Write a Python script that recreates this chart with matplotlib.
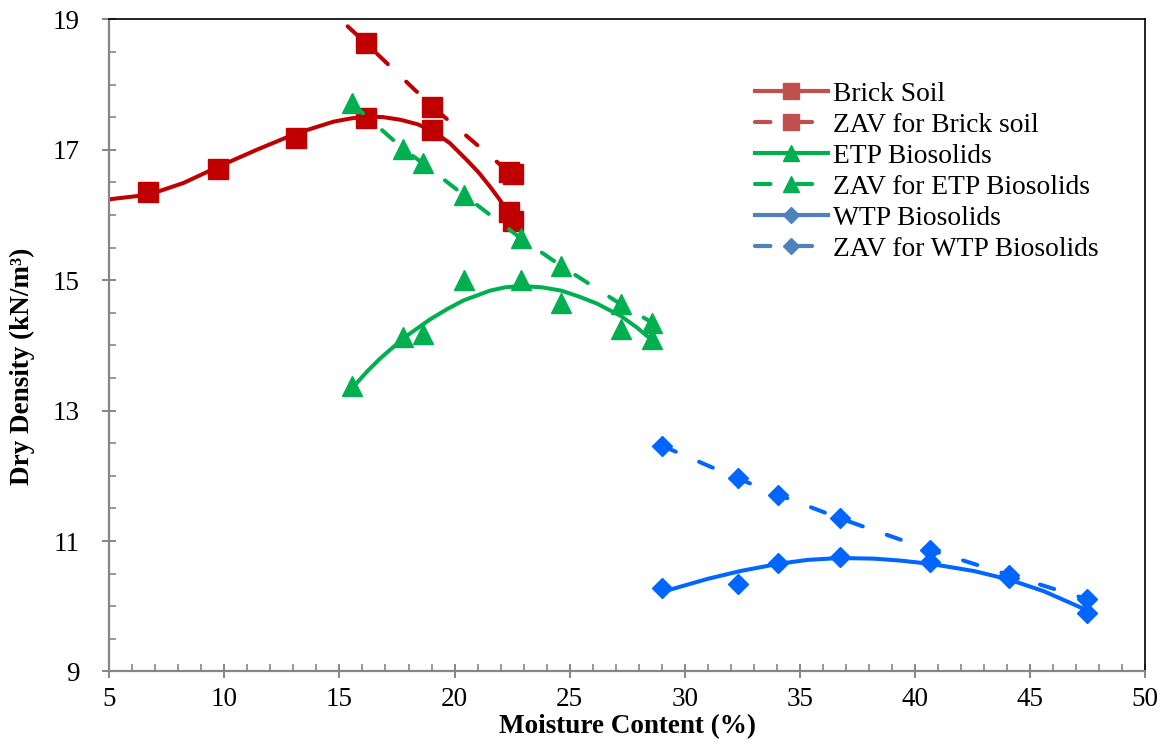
import matplotlib
matplotlib.use("Agg")
import matplotlib.pyplot as plt
from matplotlib.lines import Line2D
from matplotlib.ticker import MultipleLocator

plt.rcParams["font.family"] = ["Liberation Serif", "DejaVu Serif"]

# measured points (moisture %, dry density kN/m3)
brick_x = [6.70, 9.74, 13.12, 16.16, 19.04, 22.35, 22.52]
brick_y = [16.35, 16.70, 17.18, 17.48, 17.30, 16.04, 15.90]
brick_zav_x = [13.12, 16.16, 19.04, 22.35, 22.52]
brick_zav_y = [19.62, 18.63, 17.66, 16.66, 16.63]

etp_x = [15.54, 17.78, 18.63, 20.39, 22.89, 24.63, 27.23, 28.58]
etp_y = [13.38, 14.13, 14.17, 15.00, 15.00, 14.65, 14.25, 14.10]
etp_zav_y = [17.71, 17.01, 16.79, 16.31, 15.64, 15.22, 14.63, 14.35]

wtp_x = [29.02, 32.30, 34.06, 36.73, 40.68, 44.09, 47.47]
wtp_y = [10.28, 10.34, 10.67, 10.76, 10.68, 10.43, 9.89]
wtp_zav_y = [12.46, 11.96, 11.71, 11.35, 10.86, 10.48, 10.11]

# fitted compaction curves
brick_curve_x = [5.0, 6.71, 8.22, 9.74, 11.41, 13.12, 14.74, 15.5, 16.16, 16.9,
                 17.64, 18.4, 19.04, 19.8, 20.54, 21.05, 21.55, 21.95, 22.35]
brick_curve_y = [16.24, 16.31, 16.49, 16.74, 17.0, 17.25, 17.43, 17.48, 17.51, 17.50,
                 17.46, 17.39, 17.29, 17.10, 16.84, 16.65, 16.43, 16.24, 16.03]
etp_curve_x = [15.54, 16.2, 16.77, 17.78, 18.94, 19.7, 20.39, 21.55, 22.2, 22.89,
               23.8, 24.63, 25.4, 26.19, 27.23, 27.9, 28.58]
etp_curve_y = [13.34, 13.60, 13.80, 14.11, 14.40, 14.56, 14.69, 14.84, 14.89, 14.91,
               14.89, 14.84, 14.75, 14.64, 14.45, 14.28, 14.08]
wtp_curve_x = [29.02, 31.0, 32.42, 34.06, 35.32, 36.73, 38.22, 39.38, 40.68,
               42.57, 44.09, 45.61, 47.47]
wtp_curve_y = [10.22, 10.42, 10.54, 10.65, 10.71, 10.74, 10.73, 10.70, 10.65,
               10.54, 10.41, 10.23, 9.94]

y_ticks = [9, 11, 13, 15, 17, 19]
x_ticks = [5, 10, 15, 20, 25, 30, 35, 40, 45, 50]

red, green, blue = "#C00000", "#00B050", "#0066FF"
dash = (3.7, 6.3)

fig = plt.figure(figsize=(11.63, 7.45), dpi=100)
ax = fig.add_axes([0.094, 0.0987, 0.8905, 0.8754])

lw = 2.9
ax.plot(brick_curve_x, brick_curve_y, color=red, lw=lw, solid_capstyle="round")
ax.plot(brick_zav_x, brick_zav_y, color=red, lw=lw, dashes=dash, dash_capstyle="round")
ax.plot(brick_x, brick_y, ls="none", marker="s", ms=14.4, color=red)
ax.plot(brick_zav_x, brick_zav_y, ls="none", marker="s", ms=14.4, color=red)

ax.plot(etp_curve_x, etp_curve_y, color=green, lw=lw, solid_capstyle="round")
ax.plot(etp_x, etp_zav_y, color=green, lw=lw, dashes=dash, dash_capstyle="round")
ax.plot(etp_x, etp_y, ls="none", marker="^", ms=13.7, color=green)
ax.plot(etp_x, etp_zav_y, ls="none", marker="^", ms=13.7, color=green)

ax.plot(wtp_curve_x, wtp_curve_y, color=blue, lw=lw, solid_capstyle="round")
ax.plot(wtp_x, wtp_zav_y, color=blue, lw=lw, dashes=dash, dash_capstyle="round")
ax.plot(wtp_x, wtp_y, ls="none", marker="D", ms=9.7, color=blue)
ax.plot(wtp_x, wtp_zav_y, ls="none", marker="D", ms=9.7, color=blue)

ax.set_xlim(5, 50)
ax.set_ylim(9, 19)
ax.set_xticks(x_ticks)
ax.set_yticks(y_ticks)
ax.xaxis.set_minor_locator(MultipleLocator(1))
ax.yaxis.set_minor_locator(MultipleLocator(0.5))

grey = "#868686"
for side in ("left", "bottom"):
    ax.spines[side].set_color(grey)
    ax.spines[side].set_linewidth(1.6)
for side in ("top", "right"):
    ax.spines[side].set_color("black")
    ax.spines[side].set_linewidth(1.2)
ax.tick_params(which="major", direction="inout", length=10, width=1.4, color=grey,
               labelsize=19.5, pad=6)
ax.tick_params(which="minor", direction="in", length=5, width=1.2, color=grey)
ax.tick_params(axis="y", which="major", pad=16.5)

ax.set_xlabel("Moisture Content (%)", fontsize=19.5, fontweight="bold")
ax.set_ylabel("Dry Density (kN/m³)", fontsize=19.5, fontweight="bold")
ax.xaxis.set_label_coords(0.5, -0.065)
ax.yaxis.set_label_coords(-0.072, 0.468)

handles = [
    Line2D([], [], color="#C0504D", lw=3, marker="s", ms=11.5),
    Line2D([], [], color="#C0504D", lw=3, marker="s", ms=11.5, dashes=dash, dash_capstyle="round"),
    Line2D([], [], color="#00B050", lw=3, marker="^", ms=12),
    Line2D([], [], color="#00B050", lw=3, marker="^", ms=12, dashes=dash, dash_capstyle="round"),
    Line2D([], [], color="#4F81BD", lw=3, marker="D", ms=8),
    Line2D([], [], color="#4F81BD", lw=3, marker="D", ms=8, dashes=dash, dash_capstyle="round"),
]
labels = ["Brick Soil", "ZAV for Brick soil", "ETP Biosolids",
          "ZAV for ETP Biosolids", "WTP Biosolids", "ZAV for WTP Biosolids"]
ax.legend(handles, labels, loc="upper left", bbox_to_anchor=(0.6234, 0.905),
          frameon=False, fontsize=19.8, handlelength=2.65, handletextpad=0.2,
          labelspacing=0.21, borderpad=0, borderaxespad=0)

fig.savefig("out.png", dpi=100)
